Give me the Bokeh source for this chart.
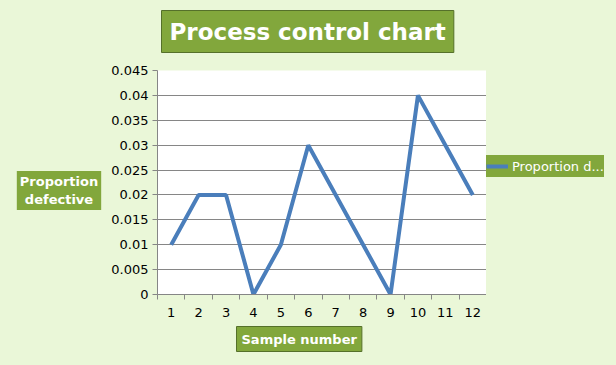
from bokeh.plotting import figure
from bokeh.models import Range1d, FixedTicker, Legend, LegendItem, Title, Label
from bokeh.layouts import row
from bokeh.embed import file_html
from bokeh.resources import INLINE

samples = [1, 2, 3, 4, 5, 6, 7, 8, 9, 10, 11, 12]
proportion_defective = [0.01, 0.02, 0.02, 0.0, 0.01, 0.03, 0.02, 0.01, 0.0, 0.04, 0.03, 0.02]
y_ticks = [0, 0.005, 0.01, 0.015, 0.02, 0.025, 0.03, 0.035, 0.04, 0.045]
y_tick_labels = ["0", "0.005", "0.01", "0.015", "0.02", "0.025", "0.03", "0.035", "0.04", "0.045"]
title_text = "Process control chart"
x_title = "Sample number"
y_title = "Proportion\ndefective"
series_name = "Proportion d..."

H = 365
LEFT_W, MAIN_W, RIGHT_W = 108, 378, 130
FONT = "DejaVu Sans"
GREEN = "#82a73c"
GRID = "#868686"
BG = "#eaf7d8"
LINE = "#4a7ebb"


def side_figure(width):
    f = figure(width=width, height=H, output_backend="svg", toolbar_location=None, title=None,
               x_axis_location=None, y_axis_location=None,
               x_range=Range1d(100, 101), y_range=Range1d(100, 101),
               min_border=0, min_border_left=0, min_border_right=0,
               min_border_top=0, min_border_bottom=0)
    f.border_fill_color = BG
    f.background_fill_color = BG
    f.outline_line_color = None
    f.xgrid.visible = False
    f.ygrid.visible = False
    return f


# ---- main chart ----
p = figure(width=MAIN_W, height=H, output_backend="svg", toolbar_location=None,
           x_range=Range1d(0.5, 12.5), y_range=Range1d(0, 0.045),
           min_border_left=49, min_border_right=0, min_border_top=70, min_border_bottom=71)
p.border_fill_color = BG
p.background_fill_color = "white"
p.outline_line_color = None

r = p.line(samples, proportion_defective, line_color=LINE, line_width=4)

p.title.text = title_text
p.title.align = "left"
p.title.offset = 4
p.title.text_font = FONT
p.title.text_font_style = "bold"
p.title.text_font_size = "23px"
p.title.text_color = "white"
p.title.background_fill_color = GREEN
p.title.border_line_color = "#55702a"
p.title.padding = 8
# thin spacer between the frame and the title box
p.add_layout(Title(text=" ", text_font_size="1px"), "above")

p.xaxis.ticker = FixedTicker(ticks=samples, minor_ticks=[s - 0.5 for s in samples] + [12.5])
p.xaxis.major_tick_out = 0
p.xaxis.major_tick_in = 0
p.xaxis.minor_tick_out = 5
p.xaxis.minor_tick_in = 0
p.xaxis.axis_line_color = GRID
p.xaxis.minor_tick_line_color = GRID
p.xaxis.major_label_text_font = FONT
p.xaxis.major_label_text_font_size = "13px"
p.xaxis.major_label_text_color = "black"
p.xaxis.major_label_standoff = 8

p.yaxis.ticker = FixedTicker(ticks=y_ticks, minor_ticks=[])
p.yaxis.major_label_overrides = {t: l for t, l in zip(y_ticks, y_tick_labels)}
p.yaxis.major_tick_out = 5
p.yaxis.major_tick_in = 0
p.yaxis.axis_line_color = GRID
p.yaxis.major_tick_line_color = GRID
p.yaxis.major_label_text_font = FONT
p.yaxis.major_label_text_font_size = "13px"
p.yaxis.major_label_text_color = "black"
p.yaxis.major_label_standoff = 4

p.xgrid.grid_line_color = None
p.ygrid.ticker = FixedTicker(ticks=y_ticks)
p.ygrid.grid_line_color = GRID
p.ygrid.grid_line_alpha = 1

xt = Title(text=x_title, align="left", offset=79, text_font=FONT, text_font_style="bold",
           text_font_size="13px", text_color="white", background_fill_color=GREEN,
           border_line_color="#55702a", padding=5)
p.add_layout(xt, "below")

# ---- left strip with the y title (frame aligned with the chart frame) ----
left = side_figure(LEFT_W)
left.add_layout(Label(x=58.5, y=104, x_units="screen", y_units="screen", text=y_title,
                      text_align="center", text_baseline="middle", text_font=FONT,
                      text_font_style="bold", text_font_size="13px", text_color="white",
                      background_fill_color=GREEN, padding=3))

# ---- right strip with the legend ----
right = side_figure(RIGHT_W)
r2 = right.line(samples, proportion_defective, line_color=LINE, line_width=4)
legend = Legend(items=[LegendItem(label=series_name, renderers=[r2])], location=(0, 117),
                label_text_font=FONT, label_text_font_size="13px", label_text_color="white",
                background_fill_color=GREEN, background_fill_alpha=1, border_line_color=None,
                padding=4, margin=0, glyph_width=22, glyph_height=22, label_height=22,
                label_standoff=4, spacing=0)
right.add_layout(legend, "center")

layout = row(left, p, right, spacing=0, styles={"background-color": BG})
open("out.html", "w").write(file_html(layout, INLINE))
